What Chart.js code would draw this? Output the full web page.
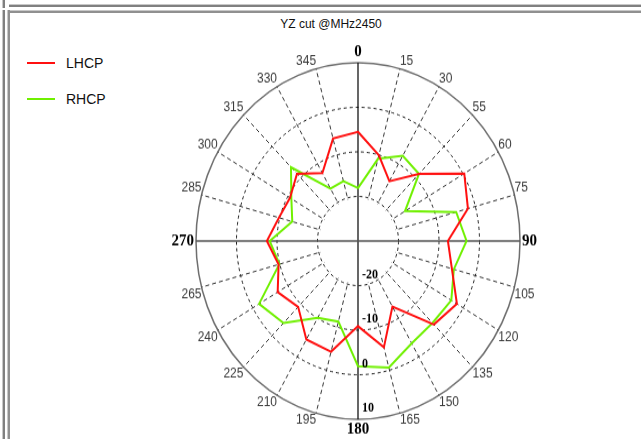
<!DOCTYPE html>
<html>
<head>
<meta charset="utf-8">
<script src="https://cdn.jsdelivr.net/npm/chart.js@4.4.1/dist/chart.umd.min.js"></script>
<style>
  html, body { margin: 0; padding: 0; background: #fff; }
  body { width: 641px; height: 439px; position: relative; overflow: hidden; font-family: "Liberation Sans", Arial, sans-serif; }
  .bar { position: absolute; }
  #title { position: absolute; top: 17px; left: 231px; width: 200px; text-align: center; font-size: 12px; color: #111; }
  #legend { position: absolute; left: 27px; top: 55px; }
  .item { position: relative; height: 36px; }
  .item span.line { position: absolute; left: 0; top: 7px; width: 28px; height: 2px; }
  .item span.txt { position: absolute; left: 39px; top: 0; font-size: 14px; color: #111; }
  #chart { position: absolute; left: 0; top: 44px; }
</style>
</head>
<body>
<!-- window frame -->
<div class="bar" style="left:9px;top:4px;width:632px;height:1px;background:#c8c8c8"></div>
<div class="bar" style="left:9px;top:5px;width:632px;height:2px;background:#808080"></div>
<div class="bar" style="left:9px;top:10px;width:632px;height:1px;background:#c8c8c8"></div>
<div class="bar" style="left:9px;top:11px;width:632px;height:2px;background:#909090"></div>
<div class="bar" style="left:2px;top:0;width:1px;height:8px;background:#c8c8c8"></div>
<div class="bar" style="left:3px;top:0;width:2px;height:8px;background:#808080"></div>
<div class="bar" style="left:2px;top:10px;width:1px;height:429px;background:#c8c8c8"></div>
<div class="bar" style="left:3px;top:10px;width:2px;height:429px;background:#808080"></div>
<div class="bar" style="left:7px;top:10px;width:1px;height:429px;background:#c8c8c8"></div>
<div class="bar" style="left:8px;top:10px;width:2px;height:429px;background:#909090"></div>

<div id="title">YZ cut @MHz2450</div>
<div id="legend"></div>
<canvas id="chart" width="641" height="358" style="width:641px;height:394px"></canvas>

<script>
// ----------------- Data -----------------
const angleLabels = ['0', '15', '30', '55', '60', '75', '90', '105', '120', '135', '150', '165',
                     '180', '195', '210', '225', '240', '265', '270', '285', '300', '315', '330', '345'];
const lhcp = [-5.5, -10.1, -14.5, -8.7, 0.3, -1.9, -7.8, -6.0, -1.8, -3.5, -13.0, -5.3,
              -10.9, -4.3, -4.5, -9.1, -7.1, -9.7, -7.5, -9.8, -10.6, -8.7, -12.4, -6.2];
const rhcp = [-18.1, -10.9, -7.9, -8.7, -16.6, -4.9, -3.2, -5.5, -3.4, -4.0, -3.5, -0.6,
              -1.9, -11.3, -10.1, -4.0, -1.8, -9.9, -8.2, -13.2, -11.0, -6.6, -16.4, -16.1];
const seriesNames = ['LHCP', 'RHCP'];
const seriesColors = ['#ff1010', '#70f000'];
const rMin = -30, rMax = 10, rStep = 10;
const innerRing = -20;

// ----------------- Legend -----------------
const legend = document.getElementById('legend');
seriesNames.forEach((name, i) => {
  const d = document.createElement('div');
  d.className = 'item';
  d.innerHTML = `<span class="line" style="background:${seriesColors[i]}"></span><span class="txt">${name}</span>`;
  legend.appendChild(d);
});

// ----------------- Plugins -----------------
const polarExtras = {
  id: 'polarExtras',
  beforeDatasetsDraw(chart) {
    const r = chart.scales.r, ctx = chart.ctx;
    const inner = r.getDistanceFromCenterForValue(innerRing);
    const outer = r.getDistanceFromCenterForValue(rMax);
    ctx.save();
    ctx.fillStyle = '#fff';
    ctx.beginPath();
    ctx.arc(r.xCenter, r.yCenter, inner - 1.5, 0, Math.PI * 2);
    ctx.fill();
    // main axes through the centre
    [[0, '#000', 1.2], [6, '#555', 1.5]].forEach(([i, col, w]) => {
      const a = r.getPointPosition(i, outer);
      const b = r.getPointPosition(i + 12, outer);
      ctx.strokeStyle = col;
      ctx.lineWidth = w;
      ctx.beginPath();
      ctx.moveTo(a.x, a.y);
      ctx.lineTo(b.x, b.y);
      ctx.stroke();
    });
    ctx.restore();
  },
  afterDatasetsDraw(chart) {
    const r = chart.scales.r, ctx = chart.ctx;
    ctx.save();
    ctx.font = 'bold 12px "Liberation Serif", serif';
    ctx.fillStyle = '#000';
    ctx.textAlign = 'left';
    ctx.textBaseline = 'middle';
    r.ticks.forEach(t => {
      if (t.value <= rMin) return;
      const d = r.getDistanceFromCenterForValue(t.value);
      ctx.fillText(String(t.value), r.xCenter + 4, r.yCenter + d - 10);
    });
    ctx.restore();
  }
};

// ----------------- Chart -----------------
new Chart(document.getElementById('chart'), {
  type: 'radar',
  data: {
    labels: angleLabels,
    datasets: [lhcp, rhcp].map((vals, i) => ({
      label: seriesNames[i],
      data: vals,
      borderColor: seriesColors[i],
      backgroundColor: 'transparent',
      borderWidth: 2,
      fill: false,
      pointRadius: 0,
      tension: 0
    }))
  },
  plugins: [polarExtras],
  options: {
    responsive: false,
    animation: false,
    layout: { padding: { left: 75, right: 0, top: 0, bottom: 0 } },
    plugins: { legend: { display: false }, title: { display: false }, tooltip: { enabled: false } },
    scales: {
      r: {
        min: rMin,
        max: rMax,
        ticks: { stepSize: rStep, display: false },
        grid: {
          circular: true,
          color: c => c.index === 4 ? '#6e6e6e' : '#1a1a1a',
          lineWidth: c => c.index === 4 ? 1.5 : (c.index === 0 ? 0 : 1)
        },
        border: { dash: c => c.index === 4 ? [] : [3, 3] },
        angleLines: {
          color: c => c.index % 6 === 0 ? 'rgba(0,0,0,0)' : '#333',
          lineWidth: 1,
          borderDash: c => c.index % 6 === 0 ? [] : [4, 3]
        },
        pointLabels: {
          padding: c => c.index % 6 === 0 ? 2 : 0,
          color: c => c.index % 6 === 0 ? '#000' : '#3a3a3a',
          font: c => c.index % 6 === 0
            ? { family: '"Liberation Serif", serif', size: 15, weight: 'bold', lineHeight: 1 }
            : { family: '"Liberation Sans", Arial, sans-serif', size: 12, lineHeight: 1.1 }
        }
      }
    }
  }
});
</script>
</body>
</html>
